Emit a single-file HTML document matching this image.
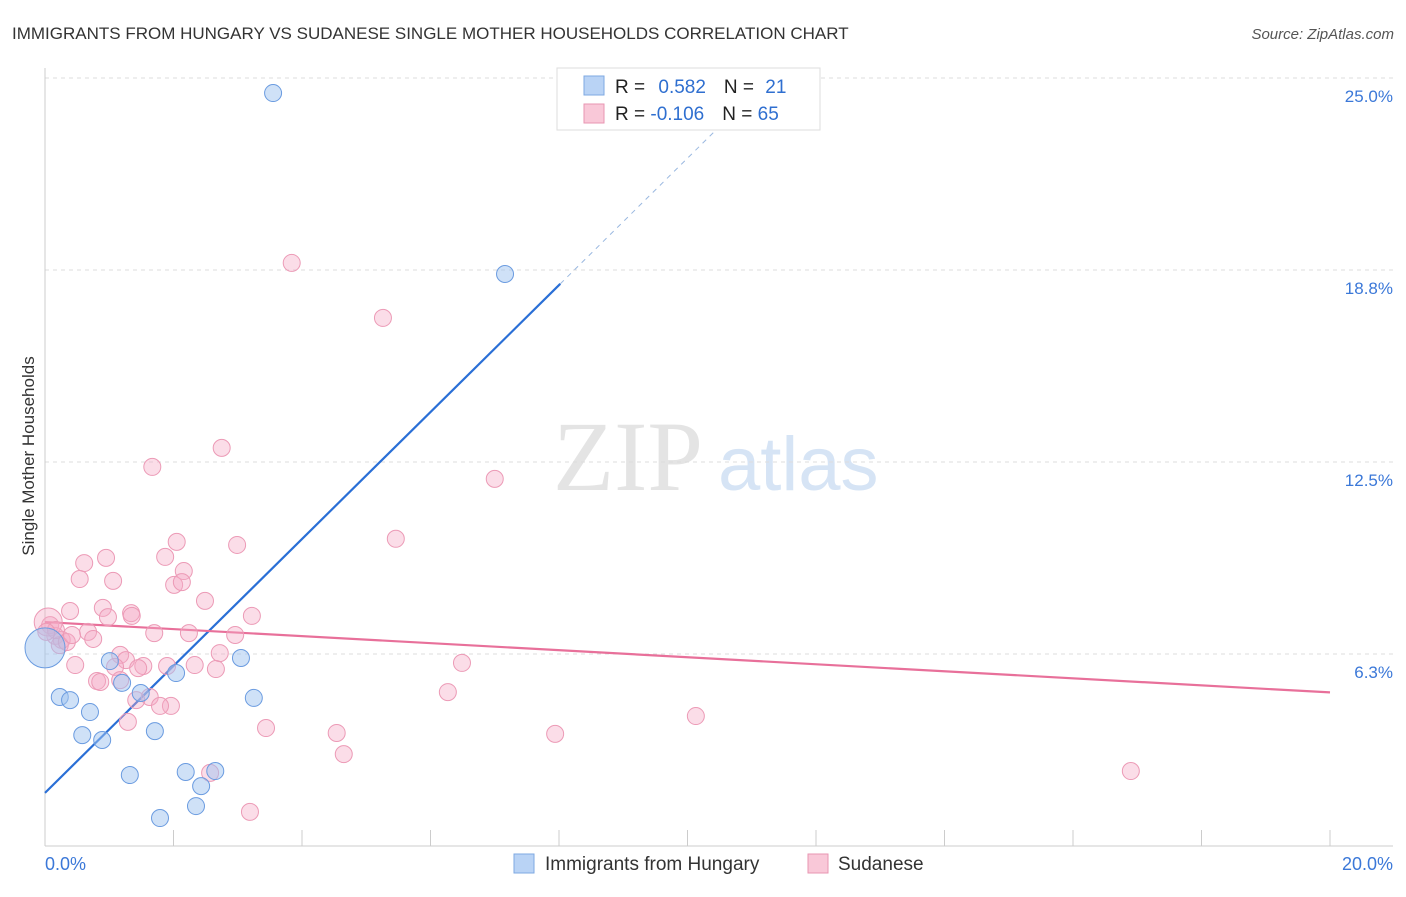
<!DOCTYPE html>
<html><head><meta charset="utf-8"><style>
body{margin:0;background:#fff;font-family:"Liberation Sans",sans-serif}
svg text{font-family:"Liberation Sans",sans-serif}
</style></head><body>
<svg id="c" width="1406" height="892" xmlns="http://www.w3.org/2000/svg">
<text x="12" y="39" font-size="17" fill="#333">IMMIGRANTS FROM HUNGARY VS SUDANESE SINGLE MOTHER HOUSEHOLDS CORRELATION CHART</text>
<text x="1394" y="39" font-size="15" fill="#555" text-anchor="end" font-style="italic">Source: ZipAtlas.com</text>
<g><text x="553" y="490" font-size="100" fill="#e4e4e4" font-family="Liberation Serif" style="font-family:'Liberation Serif',serif">ZIP</text><text x="718" y="490" font-size="76" fill="#d6e4f5">atlas</text></g>
<g id="grid"></g>
<g id="axes"></g>
<text transform="translate(34,456) rotate(-90)" font-size="17" fill="#333" text-anchor="middle">Single Mother Households</text>
<g id="lines"></g>
<g id="pts"></g>
<g>
<rect x="557" y="68" width="263" height="62" fill="#fff" stroke="#ddd"/>
<rect x="584" y="76" width="20" height="19" fill="#b9d3f5" stroke="#7ea8e2"/>
<rect x="584" y="104" width="20" height="19" fill="#f9c8d8" stroke="#e896b2"/>
<text x="615" y="93" font-size="19" fill="#222">R = <tspan fill="#2f6fd0" dx="8">0.582</tspan><tspan fill="#222" dx="18">N = </tspan><tspan fill="#2f6fd0" dx="6">21</tspan></text>
<text x="615" y="120" font-size="19" fill="#222">R = <tspan fill="#2f6fd0">-0.106</tspan><tspan fill="#222" dx="18">N = </tspan><tspan fill="#2f6fd0">65</tspan></text>
</g>
<g>
<rect x="514" y="854" width="20" height="19" fill="#b9d3f5" stroke="#7ea8e2"/>
<text x="545" y="870" font-size="19" fill="#333">Immigrants from Hungary</text>
<rect x="808" y="854" width="20" height="19" fill="#f9c8d8" stroke="#e896b2"/>
<text x="838" y="870" font-size="19" fill="#333">Sudanese</text>
</g>
</svg>
<script>
const yTicks=[6.25,12.5,18.75,25];
const yTickLabels=["6.3%","12.5%","18.8%","25.0%"];
const xTickVals=[0,2,4,6,8,10,12,14,16,18,20];
const blueX=[3.55,7.16,0,0.23,0.39,1.01,1.20,1.49,2.04,3.05,3.25,0.70,0.58,0.89,1.71,1.32,2.19,2.65,2.43,2.35,1.79];
const blueY=[24.51,18.62,6.45,4.85,4.75,6.02,5.31,4.98,5.63,6.12,4.82,4.36,3.61,3.45,3.74,2.31,2.41,2.44,1.95,1.30,0.91];
const pinkX=[3.84,5.26,2.75,1.67,7.00,5.46,2.99,2.05,1.87,0.95,0.61,2.16,0.54,1.06,2.01,2.49,0.90,0.39,1.34,1.35,0.98,3.22,0.67,1.70,2.24,2.96,0.16,0.08,0.26,0.75,0.23,0.34,1.17,1.26,2.72,0.47,1.53,1.09,1.90,2.33,2.66,6.49,0.81,1.17,1.63,1.42,1.96,6.27,1.29,3.44,4.54,7.94,10.13,4.65,2.57,16.90,3.19,0.05,0.86,1.79,0.42,0.17,0.02,2.13,1.45];
const pinkY=[18.98,17.19,12.96,12.34,11.95,10.00,9.80,9.90,9.41,9.38,9.21,8.95,8.69,8.63,8.50,7.98,7.75,7.65,7.58,7.49,7.45,7.49,6.97,6.93,6.93,6.87,6.84,7.19,6.71,6.74,6.54,6.64,6.22,6.05,6.28,5.89,5.86,5.83,5.86,5.89,5.76,5.96,5.37,5.40,4.85,4.75,4.56,5.01,4.04,3.84,3.68,3.65,4.23,2.99,2.38,2.44,1.11,7.29,5.34,4.56,6.87,7.03,6.97,8.59,5.79];
const blueTrend=[1.73,2.066];
const pinkTrend=[7.29,-0.1145];
const NS="http://www.w3.org/2000/svg";
const sx=v=>45+v*64.25, sy=v=>846-v*30.72;
function mk(p,t,a){const e=document.createElementNS(NS,t);for(const k in a)e.setAttribute(k,a[k]);document.getElementById(p).appendChild(e);return e;}
yTicks.forEach((t,i)=>{
 const l=mk('grid','line',{x1:45,x2:1393,y1:sy(t),y2:sy(t),stroke:'#ddd','stroke-dasharray':'4,4'});
 
 
 const tx=mk('grid','text',{x:1393,y:sy(t)+24,'font-size':17,fill:'#3b78d8','text-anchor':'end'});
 tx.textContent=yTickLabels[i];
 
 
});
mk('axes','line',{x1:45,x2:45,y1:68,y2:846,stroke:'#ccc'});
mk('axes','line',{x1:45,x2:1393,y1:846,y2:846,stroke:'#ccc'});
xTickVals.forEach(v=>{const t=mk('axes','line',{x1:sx(v),x2:sx(v),y1:830,y2:846,stroke:'#ccc'});
 
 });
const x0=mk('axes','text',{x:45,y:870,'font-size':18,fill:'#3b78d8'});x0.textContent='0.0%';


const x1=mk('axes','text',{x:1393,y:870,'font-size':18,fill:'#3b78d8','text-anchor':'end'});x1.textContent='20.0%';


// trend lines
const bl=mk('lines','line',{x1:sx(0),y1:sy(blueTrend[0]),x2:sx(8.02),y2:sy(blueTrend[0]+blueTrend[1]*8.02),stroke:'#2a6fd6','stroke-width':2.2});


const bd=mk('lines','line',{x1:sx(8.02),y1:sy(blueTrend[0]+blueTrend[1]*8.02),x2:sx(10.5),y2:sy(blueTrend[0]+blueTrend[1]*10.5),stroke:'#9ab8e0','stroke-width':1,'stroke-dasharray':'5,5'});


const pl=mk('lines','line',{x1:sx(0),y1:sy(pinkTrend[0]),x2:sx(20),y2:sy(pinkTrend[0]+pinkTrend[1]*20),stroke:'#e8709a','stroke-width':2.2});


pinkX.forEach((x,i)=>{const c=mk('pts','circle',{cx:sx(x),cy:sy(pinkY[i]),r:i==57?14:8.5,fill:'rgba(246,170,198,0.4)',stroke:'#ec9ab6','stroke-width':1});
 
 });
blueX.forEach((x,i)=>{const c=mk('pts','circle',{cx:sx(x),cy:sy(blueY[i]),r:i==2?20:8.5,fill:'rgba(160,196,240,0.5)',stroke:'#6a9be0','stroke-width':1});
 
 });
</script>
</body></html>
